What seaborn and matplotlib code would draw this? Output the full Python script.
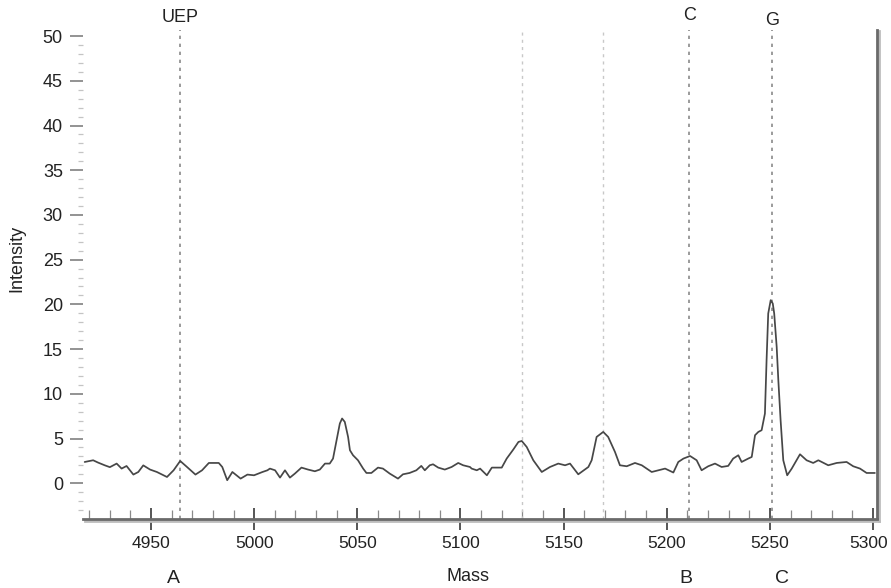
import numpy as np
import pandas as pd
import matplotlib
matplotlib.use('Agg')
import matplotlib.pyplot as plt
import seaborn as sns
from matplotlib import patheffects
from matplotlib.transforms import ScaledTranslation
from matplotlib.ticker import FixedLocator, MultipleLocator

# Spectrum trace (mass, intensity)
mass = [4917.8, 4921.9, 4924.3, 4927.6, 4930.0, 4933.3, 4935.7, 4938.1, 4941.4, 4943.8,
        4946.2, 4949.5, 4952.8, 4957.7, 4960.9, 4964.1, 4967.4, 4971.5, 4974.7, 4978.0,
        4982.8, 4984.5, 4986.9, 4989.4, 4993.4, 4996.7, 4999.9, 5004.0, 5006.4,
        5007.6, 5010.1, 5012.5, 5014.9, 5017.3, 5019.7, 5022.9, 5026.1, 5029.4, 5031.8,
        5034.3, 5036.6, 5038.2, 5039.9, 5041.5, 5042.6, 5043.9, 5045.5, 5046.4, 5047.9,
        5050.3, 5052.8, 5054.4, 5056.8, 5060.0, 5062.4, 5065.7, 5069.7, 5072.1, 5075.3,
        5078.6, 5081.0, 5082.7, 5085.1, 5086.7, 5089.2, 5092.4, 5095.7, 5098.9, 5101.3,
        5104.6, 5105.4, 5107.9, 5109.5, 5112.8, 5115.2, 5120.0, 5122.4, 5125.6, 5128.1,
        5129.7, 5132.1, 5135.3, 5139.4, 5143.4, 5147.4, 5150.7, 5153.1, 5157.1, 5162.0,
        5163.6, 5166.0, 5169.2, 5171.6, 5174.9, 5177.3, 5180.6, 5184.6, 5187.9, 5192.7,
        5195.9, 5199.2, 5203.2, 5205.6, 5208.1, 5211.3, 5214.5, 5216.9, 5220.1, 5223.4,
        5226.6, 5229.8, 5232.2, 5234.7, 5236.3, 5239.5, 5241.2, 5242.8, 5244.4, 5246.0,
        5247.6, 5248.4, 5249.2, 5250.4, 5251.4, 5252.1, 5253.3, 5254.1, 5255.2, 5256.5,
        5258.4, 5260.6, 5264.6, 5267.8, 5271.0, 5273.5, 5278.3, 5282.4, 5287.2, 5290.4,
        5293.7, 5296.9, 5300.9]
intensity = [2.38, 2.57, 2.31, 2.00, 1.80, 2.20, 1.64, 1.93, 0.97, 1.26,
             2.00, 1.53, 1.26, 0.70, 1.45, 2.49, 1.82, 0.97, 1.45, 2.27,
             2.27, 1.82, 0.34, 1.26, 0.52, 0.97, 0.89, 1.26, 1.45,
             1.64, 1.45, 0.63, 1.45, 0.63, 1.08, 1.75, 1.53, 1.34, 1.53,
             2.20, 2.20, 2.76, 4.81, 6.68, 7.24, 6.86, 5.18, 3.69, 3.13,
             2.57, 1.64, 1.15, 1.15, 1.75, 1.64, 1.08, 0.52, 1.00, 1.15,
             1.45, 1.94, 1.45, 2.01, 2.12, 1.75, 1.53, 1.82, 2.27, 2.01,
             1.82, 1.64, 1.45, 1.64, 0.89, 1.75, 1.75, 2.76, 3.77, 4.62,
             4.73, 4.06, 2.57, 1.26, 1.82, 2.20, 2.01, 2.20, 1.00, 1.82,
             2.57, 5.18, 5.74, 5.18, 3.50, 2.01, 1.90, 2.27, 2.01, 1.26,
             1.45, 1.64, 1.20, 2.38, 2.76, 3.05, 2.57, 1.45, 1.90, 2.20,
             1.82, 1.94, 2.76, 3.13, 2.38, 2.76, 2.94, 5.37, 5.74, 5.93,
             7.79, 13.76, 18.98, 20.47, 20.10, 18.98, 15.25, 11.52, 7.05, 2.57,
             0.89, 1.64, 3.24, 2.57, 2.27, 2.57, 2.01, 2.27, 2.38, 1.90,
             1.64, 1.15, 1.15]

# marker lines (expected masses)
marker_mass = [4964.0, 5211.0, 5251.0]
marker_text = ['UEP', 'C', 'G']
marker_text_y = [1.025, 1.029, 1.020]
faint_mass = [5130.0, 5169.3]

# labels under the axis
panel_mass = [4960.7, 5209.3, 5255.9]
panel_text = ['A', 'B', 'C']

df = pd.DataFrame({'Mass': mass, 'Intensity': intensity})

sns.set_style('white')
plt.rcParams['font.family'] = ['Liberation Sans', 'DejaVu Sans']

fig = plt.figure(figsize=(8.91, 5.88), dpi=100)
ax = fig.add_axes([0.0932, 0.1173, 0.891, 0.832])

for m in faint_mass:
    ax.axvline(m, color='#c8c8c8', lw=1.0, dashes=(2.2, 3.0), zorder=1)
for m, t, ty in zip(marker_mass, marker_text, marker_text_y):
    ax.axvline(m, color='#8a8a8a', lw=1.2, dashes=(2.0, 2.8), zorder=1)
    ax.text(m, ty, t, transform=ax.get_xaxis_transform(), ha='center',
            va='center', fontsize=13, color='#222222')

sns.lineplot(data=df, x='Mass', y='Intensity', estimator=None, sort=False,
             color='#474747', lw=1.25, ax=ax, zorder=3)

ax.set_xlim(4917.0, 5301.9)
ax.set_ylim(-4.0, 50.7)

ax.xaxis.set_major_locator(MultipleLocator(50))
ax.xaxis.set_minor_locator(FixedLocator(np.arange(4920, 5301, 10)))
ax.yaxis.set_major_locator(FixedLocator(np.arange(0, 51, 5)))
ax.yaxis.set_minor_locator(FixedLocator(np.arange(-3, 51, 1)))

ax.tick_params(axis='x', which='major', direction='inout', length=16, width=1.4,
               color='#555555', labelsize=12.5, labelcolor='#222222', pad=4)
ax.tick_params(axis='x', which='minor', direction='in', length=6.5, width=0.9,
               color='#8a8a8a')
ax.tick_params(axis='y', which='major', direction='out', length=9.5, width=1.3,
               color='#8a8a8a', labelsize=13, labelcolor='#222222', pad=5)
ax.tick_params(axis='y', which='minor', direction='out', length=3.5, width=0.9,
               color='#c4c4c4')
ax.tick_params(bottom=True, left=True, which='both')

ax.spines['top'].set_visible(False)
ax.spines['left'].set_visible(False)
shadow = [patheffects.SimpleLineShadow(offset=(1.2, -1.2), shadow_color='#bdbdbd', alpha=1.0),
          patheffects.Normal()]
for side in ['bottom', 'right']:
    ax.spines[side].set_color('#6a6a6a')
    ax.spines[side].set_linewidth(2.0)
    ax.spines[side].set_path_effects(shadow)

ax.set_xlabel('Mass', fontsize=13, color='#222222')
ax.xaxis.set_label_coords(0.485, -0.100)
ax.set_ylabel('Intensity', fontsize=13, color='#222222')
ax.yaxis.set_label_coords(-0.073, 0.532)

for m, t in zip(panel_mass, panel_text):
    ax.text(m, -0.122, t, transform=ax.get_xaxis_transform(), ha='center',
            va='center', fontsize=14, color='#222222')

# keep the last x label (5300) inside the figure
fig.canvas.draw()
for tick in ax.xaxis.get_major_ticks():
    if tick.label1.get_text() == '5300':
        tick.label1.set_transform(tick.label1.get_transform()
                                  + ScaledTranslation(-4 / 100, 0, fig.dpi_scale_trans))

fig.savefig('out.png', dpi=100)
